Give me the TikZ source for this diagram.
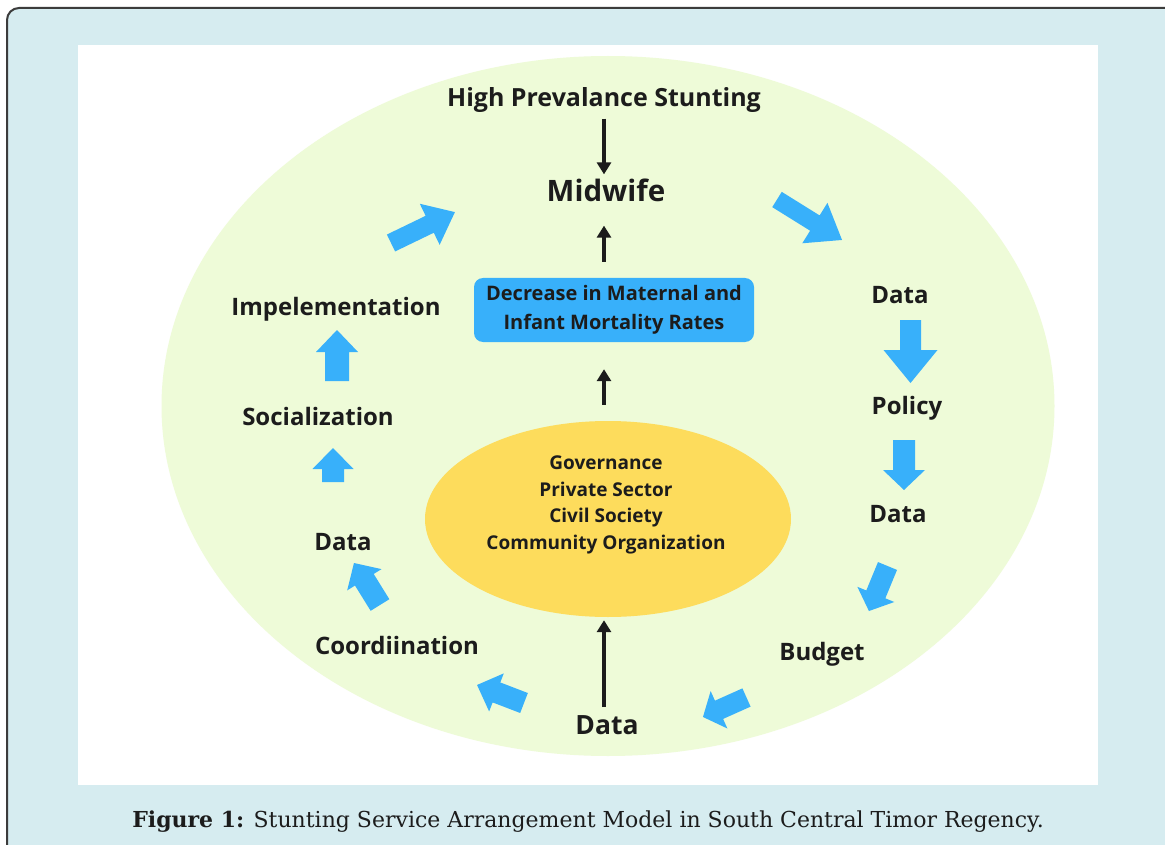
\documentclass[tikz,border=0pt]{standalone}
\usepackage{fontspec}
\setmainfont{DejaVu Serif}
\newfontfamily\labelfont{Open Sans}
\usetikzlibrary{shapes.geometric,arrows.meta}
\definecolor{framefill}{RGB}{214,236,240}
\definecolor{frameline}{RGB}{60,60,60}
\definecolor{ringgreen}{RGB}{238,251,216}
\definecolor{flowblue}{RGB}{56,176,250}
\definecolor{hubyellow}{RGB}{253,220,92}
\definecolor{inktext}{RGB}{28,28,28}
\begin{document}
\begin{tikzpicture}[x=1pt,y=-1pt,
  lbl/.style={font=\labelfont\bfseries\fontsize{24}{28}\selectfont, text=inktext, inner sep=0pt},
  small/.style={font=\labelfont\bfseries\fontsize{19}{26.5}\selectfont, text=inktext, align=center, inner sep=0pt},
  blk/.style={draw=inktext, line width=3.2pt, -{Triangle[length=12pt,width=14pt]}},
  pics/barrow/.style n args={4}{code={
    \fill[flowblue] (0,-#3) -- (#1-#2,-#3) -- (#1-#2,-#4) -- (#1,0)
      -- (#1-#2,#4) -- (#1-#2,#3) -- (0,#3) -- cycle;}}
]
\useasboundingbox (0,0) rectangle (1165,845);
\clip (0,0) rectangle (1165,845);
% page, frame and panel
\fill[white] (0,0) rectangle (1165,845);
\draw[frameline, line width=2pt, fill=framefill, rounded corners=12pt] (7,8) rectangle (1200,880);
\fill[white] (78,45) rectangle (1098,785);

% outer ring and centre shapes
\node[ellipse, fill=ringgreen, minimum width=893pt, minimum height=700pt, inner sep=0pt] (ring) at (608,406) {};
\node[ellipse, fill=hubyellow, minimum width=366pt, minimum height=196pt, inner sep=0pt] (hub) at (608,519) {};
\node[small] (hubtext) at (606,505)
  {Governance\\Private Sector\\Civil Society\\Community Organization};
\node[rectangle, rounded corners=9pt, fill=flowblue, minimum width=280pt, minimum height=64pt, small, font=\labelfont\bfseries\fontsize{20}{29}\selectfont] (goal) at (614,310)
  {Decrease in Maternal and\\Infant Mortality Rates};

% labels
\node[lbl, font=\labelfont\bfseries\fontsize{25}{28}\selectfont] (hps) at (604,100) {High Prevalance Stunting};
\node[lbl, font=\labelfont\bfseries\fontsize{29.5}{32}\selectfont] (mid) at (606,190) {Midwife};
\node[lbl] (d1) at (900,295) {Data};
\node[lbl] (pol) at (907,408) {Policy};
\node[lbl] (d2) at (898,514) {Data};
\node[lbl] (bud) at (822,654) {Budget};
\node[lbl, font=\labelfont\bfseries\fontsize{26.5}{30}\selectfont] (d3) at (607,725) {Data};
\node[lbl] (coo) at (397,645) {Coordiination};
\node[lbl] (d4) at (343,542) {Data};
\node[lbl] (soc) at (318,416) {Socialization};
\node[lbl] (imp) at (336,309) {Impelementation};

% black connectors
\draw[blk, shorten <=6pt, shorten >=4pt] (hps.south -| 604,0) -- (mid.north -| 604,0);
\draw[blk, shorten <=16pt, shorten >=24pt] (goal.north -| 604,0) -- (mid.south -| 604,0);
\draw[blk, shorten <=16pt, shorten >=27pt] (hub.north -| 604,0) -- (goal.south -| 604,0);
\draw[blk, shorten <=8pt, shorten >=3pt] (d3.north -| 604,0) -- (hub.south -| 604,0);

% blue flow arrows round the ring
\pic[rotate=25.8]   at (391,243)   {barrow={71}{28}{9.4}{22.8}};
\pic[rotate=-31.9]  at (777,199.5) {barrow={76.6}{32}{9}{23.8}};
\pic[rotate=-90]    at (910.5,320) {barrow={63}{33}{10.5}{27}};
\pic[rotate=-90]    at (904,440)   {barrow={50}{20}{11}{21}};
\pic[rotate=-112.4] at (887.5,566) {barrow={48.7}{18}{10.3}{20}};
\pic[rotate=-155.9] at (746.5,697.5) {barrow={47.7}{17.6}{10}{20.5}};
\pic[rotate=159]    at (524,703)   {barrow={50.3}{20.8}{10.7}{20.4}};
\pic[rotate=121.8]  at (380,605)   {barrow={49.4}{19.7}{11}{20.2}};
\pic[rotate=90]     at (333,482)   {barrow={34}{21}{11}{20.5}};
\pic[rotate=90]     at (337,381)   {barrow={51}{22}{12}{21}};

% caption
\node[font=\fontsize{22}{26}\selectfont, text=inktext] (cap) at (588,822)
  {\textbf{Figure 1:} Stunting Service Arrangement Model in South Central Timor Regency.};
\end{tikzpicture}
\end{document}
